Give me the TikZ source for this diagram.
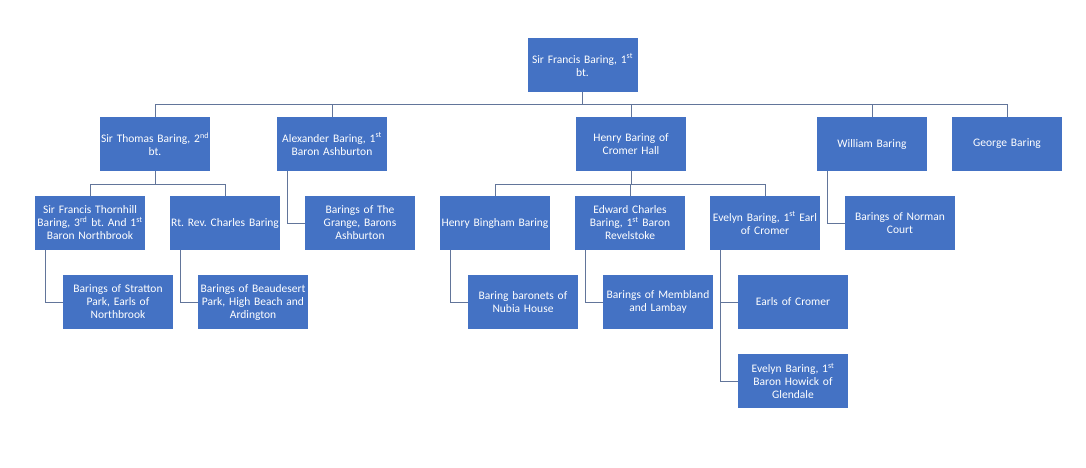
\documentclass[tikz,border=0pt]{standalone}
\usepackage{fontspec}
\setmainfont{Carlito}
\usetikzlibrary{calc}
\definecolor{boxblue}{HTML}{4472C4}
\definecolor{linkgray}{HTML}{62759A}
\begin{document}
\begin{tikzpicture}[x=1pt,y=-1pt,
  person/.style={draw=none,fill=boxblue,text=white,minimum width=110pt,minimum height=54pt,
    text width=109pt,inner sep=0.5pt,align=center,font=\fontsize{11.5}{13}\selectfont\frenchspacing},
  link/.style={draw=linkgray,line width=1pt}]
\useasboundingbox[fill=white] (0,0) rectangle (1086,468);
% level 1
\node[person] (top) at (582.5,65) {Sir Francis Baring, 1\textsuperscript{st}\\bt.};
% level 2
\node[person] (thomas) at (155,144) {Sir Thomas Baring, 2\textsuperscript{nd}\\bt.};
\node[person] (alex) at (332,144) {Alexander Baring, 1\textsuperscript{st}\\Baron Ashburton};
\node[person] (henry) at (631,144) {Henry Baring of\\Cromer Hall};
\node[person] (william) at (872,144) {William Baring};
\node[person] (george) at (1007,144) {George Baring};
% level 3
\node[person] (francis) at (90,223) {Sir Francis Thornhill\\Baring, 3\textsuperscript{rd} bt. And 1\textsuperscript{st}\\Baron Northbrook};
\node[person] (charles) at (225,223) {Rt. Rev. Charles Baring};
\node[person] (grange) at (360,223) {Barings of The\\Grange, Barons\\Ashburton};
\node[person] (bingham) at (495,223) {Henry Bingham Baring};
\node[person] (edward) at (630,223) {Edward Charles\\Baring, 1\textsuperscript{st} Baron\\Revelstoke};
\node[person] (evelyn) at (765,223) {Evelyn Baring, 1\textsuperscript{st} Earl\\of Cromer};
\node[person] (norman) at (900,223) {Barings of Norman\\Court};
% level 4
\node[person] (stratton) at (118,302) {Barings of Stratton\\Park, Earls of\\Northbrook};
\node[person] (beaudesert) at (253,302) {Barings of Beaudesert\\Park, High Beach and\\Ardington};
\node[person] (nubia) at (523,302) {Baring baronets of\\Nubia House};
\node[person] (membland) at (658,302) {Barings of Membland\\and Lambay};
\node[person] (earls) at (793,302) {Earls of Cromer};
% level 5
\node[person] (howick) at (793,381) {Evelyn Baring, 1\textsuperscript{st}\\Baron Howick of\\Glendale};
% bus from top
\coordinate (topbus) at ($(top.south)+(0,12)$);
\draw[link] (top.south) -- (topbus);
\foreach \c in {thomas,alex,henry,william,george}
  \draw[link] (topbus) -| (\c.north);
% Thomas's children
\coordinate (thbus) at ($(thomas.south)+(0,13)$);
\draw[link] (thomas.south) -- (thbus);
\foreach \c in {francis,charles}
  \draw[link] (thbus) -| (\c.north);
% Henry's children
\coordinate (hebus) at ($(henry.south)+(0,13)$);
\draw[link] (henry.south) -- (hebus);
\foreach \c in {bingham,edward,evelyn}
  \draw[link] (hebus) -| (\c.north);
% side connectors
\draw[link] ($(alex.south west)+(11,0)$) |- (grange.west);
\draw[link] ($(william.south west)+(11,0)$) |- (norman.west);
\draw[link] ($(francis.south west)+(11,0)$) |- (stratton.west);
\draw[link] ($(charles.south west)+(11,0)$) |- (beaudesert.west);
\draw[link] ($(bingham.south west)+(11,0)$) |- (nubia.west);
\draw[link] ($(edward.south west)+(11,0)$) |- (membland.west);
\coordinate (evx) at ($(evelyn.south west)+(11,0)$);
\draw[link] (evx) |- (earls.west);
\draw[link] (evx) |- (howick.west);
\end{tikzpicture}
\end{document}
